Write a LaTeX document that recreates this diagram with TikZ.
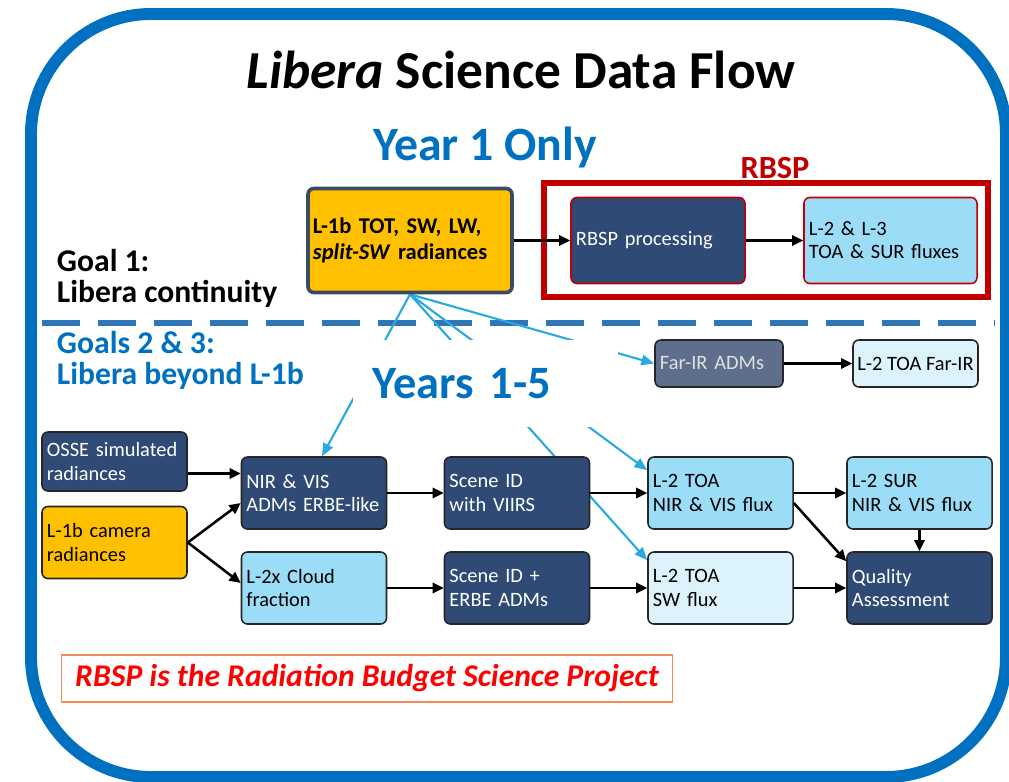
\documentclass[tikz,border=0pt]{standalone}
\usepackage{fontspec}
\setmainfont{Carlito}
\usetikzlibrary{arrows.meta}

\definecolor{navy}{RGB}{46,74,117}
\definecolor{slate}{RGB}{95,110,140}
\definecolor{skyblue}{RGB}{155,220,247}
\definecolor{paleblue}{RGB}{221,243,252}
\definecolor{libyellow}{RGB}{255,192,0}
\definecolor{frameblue}{RGB}{0,112,192}
\definecolor{dashblue}{RGB}{46,117,182}
\definecolor{rbspred}{RGB}{192,0,0}
\definecolor{linkblue}{RGB}{40,170,225}
\definecolor{noteborder}{RGB}{244,140,90}

\pgfdeclarelayer{back}
\pgfsetlayers{back,main}

\begin{document}
\begin{tikzpicture}[
    x=0.025cm, y=-0.025cm,
    flowbox/.style={draw=black!85, line width=1.1pt, rounded corners=0.15cm, align=left,
        inner xsep=0.125cm, font=\fontsize{14.5}{16.5}\selectfont},
    gridbox/.style={flowbox, text width=3.375cm, minimum height=1.8cm},
    navybox/.style={gridbox, fill=navy, text=white},
    skybox/.style={gridbox, fill=skyblue},
    palebox/.style={gridbox, fill=paleblue},
    camerabox/.style={gridbox, fill=libyellow},
    rbspbox/.style={flowbox, draw=rbspred, text width=4.1cm, minimum height=2.15cm},
    flow/.style={-{Triangle[length=0.28cm, width=0.26cm]}, line width=1.8pt},
    link/.style={-{Triangle[length=0.32cm, width=0.26cm]}, linkblue, line width=1.5pt}
]
    \useasboundingbox (0,0) rectangle (1009,782);

    % heading and section labels
    \node (title) at (521,70) {\fontsize{38}{40}\selectfont\bfseries\itshape Libera\upshape{} Science Data Flow};
    \node[text=frameblue, font=\fontsize{34}{36}\selectfont\bfseries] (year1) at (485,147) {Year 1 Only};
    \node[text=rbspred, font=\fontsize{23}{25}\selectfont\bfseries] (rbsplabel) at (775,168) {RBSP};
    \node[anchor=west, align=left, font=\fontsize{22.5}{22}\selectfont\bfseries] (goal1) at (52,278) {Goal 1:\\Libera continuity};
    \node[anchor=west, align=left, text=frameblue, font=\fontsize{22.5}{22}\selectfont\bfseries] (goal23) at (52,360.5) {Goals 2 \& 3:\\Libera beyond L-1b};

    % year 1 chain
    \node[flowbox, fill=libyellow, draw={rgb,255:red,60;green,75;blue,100}, line width=2.6pt,
        text width=4.85cm, minimum height=2.6cm, font=\fontsize{16}{19}\selectfont\bfseries] (ltop) at (410,240.5)
        {L-1b TOT, SW, LW,\\\textit{split-SW} radiances};
    \node[draw=rbspred, line width=4.3pt, minimum width=11.1cm, minimum height=2.85cm] (rbspframe) at (766,240) {};
    \node[rbspbox, fill=navy, text=white] (rbspproc) at (658,240.5) {RBSP processing};
    \node[rbspbox, fill=skyblue, text width=4.075cm] (l23) at (890.5,240.5) {L-2 \& L-3\\TOA \& SUR fluxes};

    % years 1-5 patch
    \node[fill=white, minimum width=6.625cm, minimum height=2.175cm, text width=5.625cm, inner xsep=0.5cm,
        align=left, text=frameblue, font=\fontsize{33}{35}\selectfont\bfseries] (years) at (485.5,383.5) {Years 1-5};

    % far-IR row
    \node[flowbox, fill=slate, text=white!88!black, text width=2.95cm, minimum height=1.175cm] (farir) at (719,363.5) {Far-IR ADMs};
    \node[flowbox, fill=paleblue, inner xsep=0.05cm, minimum width=3.125cm, minimum height=1.175cm] (l2farir) at (915.5,363.5) {L-2 TOA Far-IR};

    % lower grid
    \node[navybox, minimum height=1.475cm] (osse) at (114.5,461.5) {OSSE simulated\\radiances};
    \node[camerabox] (cam) at (114.5,542.5) {L-1b camera\\radiances};
    \node[navybox] (nirvis) at (314,493) {NIR \& VIS\\ADMs ERBE-like};
    \node[skybox] (cloud) at (314,588) {L-2x Cloud\\fraction};
    \node[navybox] (sceneviirs) at (517,493) {Scene ID\\with VIIRS};
    \node[navybox] (sceneerbe) at (517,588) {Scene ID +\\ERBE ADMs};
    \node[skybox] (toanir) at (720.5,493) {L-2 TOA\\NIR \& VIS flux};
    \node[palebox] (toasw) at (720.5,588) {L-2 TOA\\SW flux};
    \node[skybox] (surnir) at (919.5,493) {L-2 SUR\\NIR \& VIS flux};
    \node[navybox] (qa) at (919.5,588) {Quality\\Assessment};

    % footnote
    \node[draw=noteborder, line width=0.8pt, minimum width=15.25cm, minimum height=1.175cm, text=red,
        font=\fontsize{22.5}{24}\selectfont\bfseries\itshape] (note) at (367,678.5) {RBSP is the Radiation Budget Science Project};

    \draw[flow] (ltop) -- (rbspproc);
    \draw[flow] (rbspproc) -- (l23);
    \draw[flow] (farir) -- (l2farir);
    \draw[flow] ([yshift=-0.3cm]osse.east) -- ([yshift=-0.3cm]osse.east -| nirvis.west);
    \draw[flow] (cam.east) -- ([yshift=-0.25cm]nirvis.west);
    \draw[flow] (cam.east) -- ([yshift=0.125cm]cloud.west);
    \draw[flow] (nirvis) -- (sceneviirs);
    \draw[flow] (cloud) -- (sceneerbe);
    \draw[flow] (sceneviirs) -- (toanir);
    \draw[flow] (sceneerbe) -- (toasw);
    \draw[flow] (toanir) -- (surnir);
    \draw[flow] (toasw) -- (qa);
    \draw[flow] ([yshift=-0.25cm]toanir.east) -- ([yshift=-0.25cm]qa.north west);
    \draw[flow] (surnir) -- (qa);

    \begin{pgfonlayer}{back}
        \draw[frameblue, line width=8.5pt, rounded corners=3cm] (31,14) rectangle (1006,777);
        \draw[dashblue, line width=4.3pt, dash pattern=on 0.95cm off 0.45cm] (42,323) -- (995,323);
        \draw[link] (ltop.south) -- ([xshift=0.2cm]nirvis.north);
        \draw[link] (ltop.south) -- (farir.west);
        \draw[link] (ltop.south) -- ([yshift=-0.35cm]toanir.north west);
        \draw[link] (ltop.south) -- ([yshift=-0.225cm]toasw.north west);
    \end{pgfonlayer}
\end{tikzpicture}
\end{document}
